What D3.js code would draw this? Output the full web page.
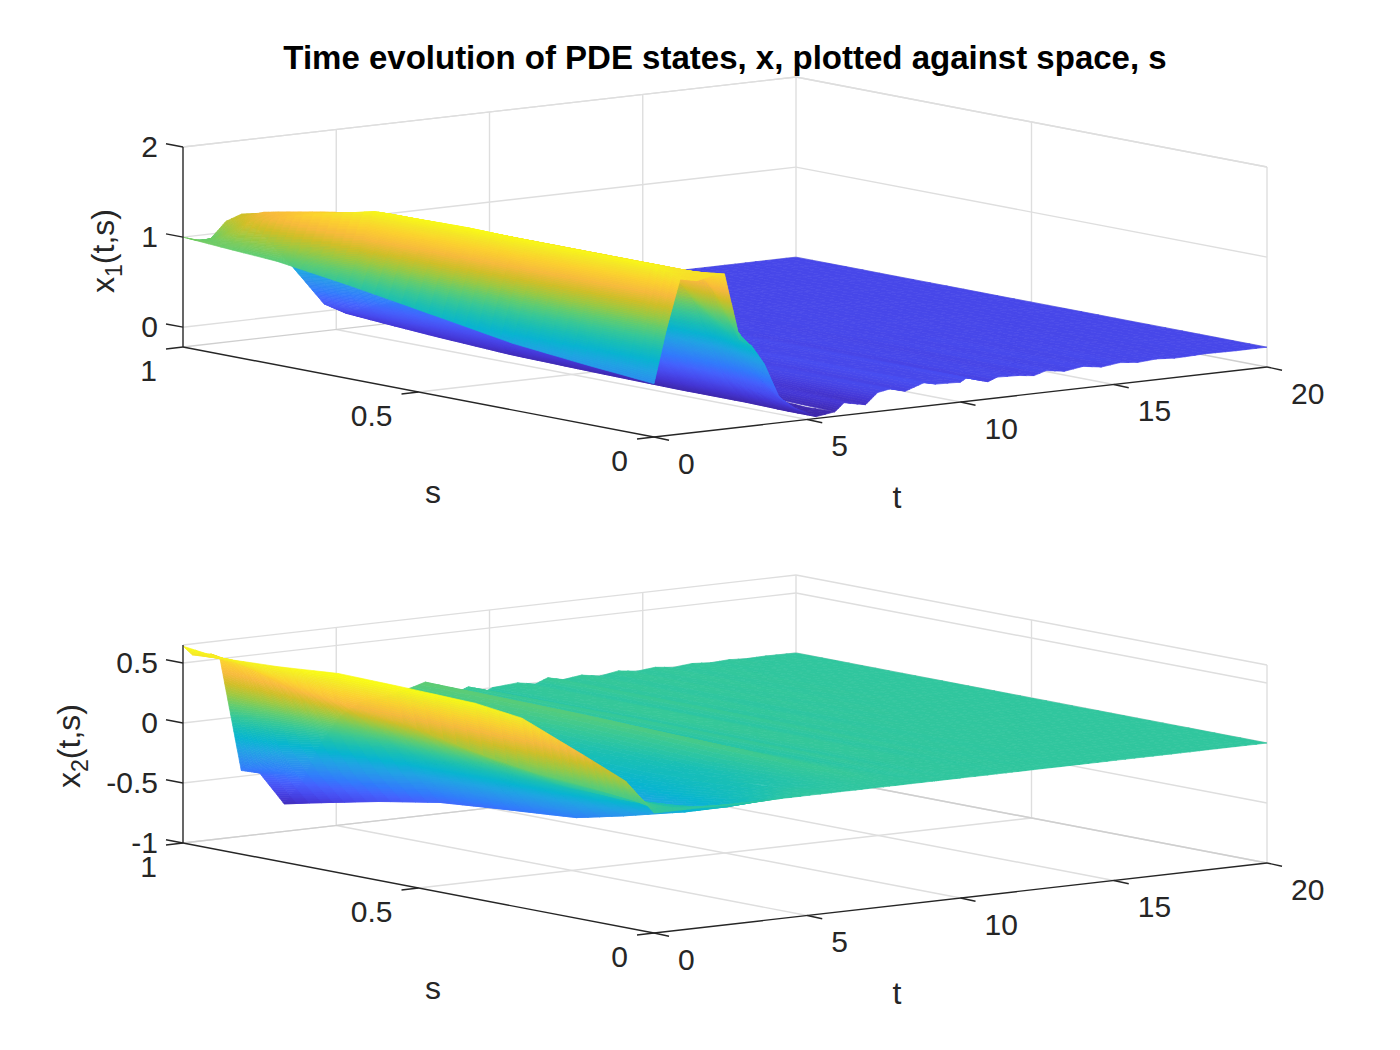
<!DOCTYPE html>
<html>
<head>
<meta charset="utf-8">
<script src="https://cdn.jsdelivr.net/npm/d3@7"></script>
<style>
  html, body { margin: 0; padding: 0; background: #fff; }
  text { font-family: "Liberation Sans", Arial, sans-serif; fill: #262626; }
</style>
</head>
<body>
<svg id="chart" width="1400" height="1050"></svg>
<script>
const titleText = "Time evolution of PDE states, x, plotted against space, s";

const tTicks = [0, 5, 10, 15, 20];
const sTicks = [0, 0.5, 1];
const z1Ticks = [0, 1, 2];
const z2Ticks = [-1, -0.5, 0, 0.5];

// top panel, t <= 5.9, one row per s
const tNear1 = [0, 0.4, 0.85, 1.4, 1.9, 2.3, 2.8, 3.2, 3.6, 4.1, 4.6, 5.3, 5.9];
const sNear1 = [0, 0.06, 0.15, 0.3, 0.45, 0.65, 0.8, 0.92, 1];
const x1Near = [
  [0.37, 0.95, 1.5, 1.46, 1.5, 1.5, 0.75, 0.66, 0.45, 0.05, -0.08, -0.2, -0.17],
  [0.4, 0.98, 1.6, 1.55, 1.5, 1.46, 1.3, 0.85, 0.62, 0.32, 0, -0.2, -0.18],
  [0.44, 1, 1.6, 1.55, 1.5, 1.45, 1.35, 1.2, 1, 0.55, 0.12, -0.19, -0.15],
  [0.52, 1.05, 1.6, 1.55, 1.5, 1.45, 1.35, 1.2, 1, 0.6, 0.2, -0.19, -0.12],
  [0.65, 1.12, 1.62, 1.55, 1.5, 1.45, 1.35, 1.2, 0.95, 0.55, 0.2, -0.18, -0.1],
  [0.82, 1.2, 1.6, 1.55, 1.48, 1.4, 1.2, 1, 0.8, 0.5, 0.15, -0.16, -0.07],
  [0.93, 1.08, 1.41, 1.42, 1.4, 1.3, 1.1, 0.9, 0.7, 0.4, 0.12, -0.12, -0.04],
  [0.97, 1, 1.2, 1.3, 1.28, 1.18, 0.98, 0.8, 0.62, 0.35, 0.1, -0.08, -0.03],
  [1, 0.95, 0.93, 1.12, 1.18, 1.05, 0.85, 0.68, 0.52, 0.3, 0.08, -0.05, -0.02]
];

// top panel, flat part with the small ripples
const tFar1 = [5.9, 6.2, 6.9, 7.3, 7.7, 8.2, 8.8, 9.2, 10, 10.2, 10.9, 11.2, 11.9, 12.4, 12.8, 13.4, 14, 14.6, 15.2, 15.8, 16.4, 17, 18, 19, 20];
const sFar1 = [0, 0.5, 1];
const x1Far = [
  [-0.17, -0.08, -0.13, -0.01, 0.015, -0.03, 0.04, 0.01, 0, 0.04, -0.03, 0.01, 0, -0.02, 0.02, -0.01, 0.02, -0.01, 0.015, -0.005, 0.01, -0.005, 0.005, 0, 0],
  [-0.09, -0.05, -0.03, -0.02, 0.01, -0.01, 0.02, 0.005, 0.005, 0.015, -0.01, 0.005, 0, -0.005, 0.008, 0, 0.006, 0, 0.004, 0, 0.003, 0, 0, 0, 0],
  [-0.02, -0.01, 0, 0, 0.002, 0, 0.002, 0, 0, 0.002, 0, 0, 0, 0, 0, 0, 0, 0, 0, 0, 0, 0, 0, 0, 0]
];

// bottom panel, t <= 5.8
const tNear2 = [0, 0.3, 0.9, 1.2, 1.9, 2.5, 3.3, 3.9, 4.5, 5.1, 5.8];
const sNear2 = [0, 0.06, 0.15, 0.28, 0.38, 0.55, 0.67, 0.8, 0.92, 1];
const x2Near = [
  [0, 0, 0, 0, 0, 0, 0, 0, 0, 0, 0],
  [0.22, 0.05, 0, -0.03, -0.05, -0.07, -0.09, -0.08, -0.05, -0.02, -0.01],
  [0.37, 0.09, 0.02, -0.03, -0.07, -0.12, -0.2, -0.18, -0.1, -0.08, -0.05],
  [0.58, 0.13, 0.05, 0, -0.08, -0.18, -0.33, -0.28, -0.16, -0.12, -0.08],
  [0.63, 0.19, 0.1, 0.05, -0.08, -0.2, -0.42, -0.35, -0.2, -0.14, -0.09],
  [0.65, 0.33, 0.2, 0.12, -0.05, -0.22, -0.47, -0.4, -0.25, -0.12, -0.06],
  [0.66, 0.38, 0.25, 0.18, -0.02, -0.25, -0.51, -0.45, -0.28, -0.1, -0.05],
  [0.62, 0.5, 0.35, 0.25, -0.1, -0.35, -0.6, -0.55, -0.3, -0.1, -0.03],
  [0.6, 0.58, 0.5, 0.35, -0.2, -0.45, -0.7, -0.6, -0.3, -0.1, -0.01],
  [0.64, 0.56, 0.55, 0.51, -0.45, -0.49, -0.77, -0.6, -0.3, -0.1, 0]
];

// bottom panel, far part: s = 1 carries the ripples, s = 0 stays on zero
const tFar2 = [5.8, 6.4, 7, 7.5, 7.9, 8.4, 9.1, 9.3, 9.9, 10.1, 10.9, 11.5, 11.9, 12.4, 13, 13.6, 14.2, 14.8, 15.4, 16, 16.6, 17.2, 17.8, 18.4, 19, 20];
const sFar2 = [0, 0.33, 0.66, 1];
const x2Far = [
  [0, 0, 0, 0, 0, 0, 0, 0, 0, 0, 0, 0, 0, 0, 0, 0, 0, 0, 0, 0, 0, 0, 0, 0, 0, 0],
  [-0.1, -0.08, -0.03, 0.01, 0.05, 0.01, -0.03, 0.02, -0.02, 0.01, 0.012, -0.012, 0.015, -0.006, 0.008, -0.005, 0.006, 0, 0.005, -0.001, 0.004, 0, 0.002, 0, 0.001, 0],
  [-0.05, -0.02, 0.03, 0.06, 0.09, 0.02, -0.03, 0.03, -0.02, 0.02, 0.02, -0.02, 0.03, -0.01, 0.015, -0.01, 0.012, 0, 0.01, -0.002, 0.008, 0, 0.005, 0, 0.002, 0],
  [0, 0.02, 0.05, 0.08, 0.11, 0.05, 0.01, 0.03, -0.02, 0, 0.016, -0.01, 0.03, 0, 0.02, -0.005, 0.02, 0, 0.015, -0.003, 0.012, 0, 0.008, 0, 0.004, 0]
];

const parulaStops = [0, 0.063, 0.127, 0.19, 0.254, 0.317, 0.381, 0.444, 0.508, 0.571, 0.635, 0.698, 0.762, 0.825, 0.889, 0.952, 1];
const parulaColors = ["#3e26a8", "#4537d5", "#484df0", "#4563fd", "#327bfc", "#2b91ef", "#20a5e3", "#08b5d0", "#19bfb5", "#37c897", "#63cd6f", "#9dc942", "#d1bf27", "#f8ba3d", "#fcd030", "#f5e826", "#f9fb15"];

const svg = d3.select("#chart");

// an oblique projection: screen offset is the sum of one scale per data axis
const xT = d3.scaleLinear().domain([0, 20]).range([0, 613]);
const yT = d3.scaleLinear().domain([0, 20]).range([0, -70]);
const xS = d3.scaleLinear().domain([0, 1]).range([0, -471]);
const yS = d3.scaleLinear().domain([0, 1]).range([0, -90]);

const makeQuads = (ts, ss, rows, colorOf, project) => {
  const quads = [];
  for (let i = ss.length - 2; i >= 0; i--) {
    for (let j = ts.length - 2; j >= 0; j--) {
      const z00 = rows[i][j], z01 = rows[i][j + 1], z10 = rows[i + 1][j], z11 = rows[i + 1][j + 1];
      const nt = Math.min(40, Math.max(1, Math.ceil(Math.max(Math.abs(z01 - z00), Math.abs(z11 - z10)) / 0.02), Math.ceil((ts[j + 1] - ts[j]) * 30 / 14)));
      const ns = Math.min(14, Math.max(1, Math.ceil(Math.max(Math.abs(z10 - z00), Math.abs(z11 - z01)) / 0.03), Math.ceil((ss[i + 1] - ss[i]) * 471 / 14)));
      const at = (a, b) => {
        const u = a / ns, v = b / nt;
        const z = (1 - u) * ((1 - v) * z00 + v * z01) + u * ((1 - v) * z10 + v * z11);
        const t = ts[j] + v * (ts[j + 1] - ts[j]);
        const s = ss[i] + u * (ss[i + 1] - ss[i]);
        return { p: project(t, s, z), z };
      };
      for (let a = ns - 1; a >= 0; a--) {
        for (let b = nt - 1; b >= 0; b--) {
          const c = [at(a, b), at(a, b + 1), at(a + 1, b + 1), at(a + 1, b)];
          quads.push({
            d: "M" + c.map((q) => q.p[0].toFixed(1) + "," + q.p[1].toFixed(1)).join("L") + "Z",
            color: colorOf(d3.mean(c, (q) => q.z))
          });
        }
      }
    }
  }
  return quads;
};

const drawPanel = (cfg) => {
  const g = svg.append("g");
  const yZ = d3.scaleLinear().domain(cfg.zLim).range([0, -cfg.zHeight]);
  const project = (t, s, z) => [
    cfg.x0 + xT(t) + xS(s),
    cfg.y0 + yT(t) + yS(s) + yZ(z)
  ];
  const frac = d3.scaleLinear().domain(cfg.cLim).range([0, 1]).clamp(true);
  const parula = d3.scaleLinear().domain(parulaStops).range(parulaColors);
  const colorOf = (z) => parula(frac(z));

  const [zLo, zHi] = cfg.zLim;
  const line = (a, b, stroke, width) => {
    g.append("line")
      .attr("x1", a[0]).attr("y1", a[1])
      .attr("x2", b[0]).attr("y2", b[1])
      .attr("stroke", stroke)
      .attr("stroke-width", width);
  };

  // grid on the two back walls and the floor
  const grid = "#dedede";
  const gridWidth = 1.4;
  tTicks.forEach((t) => {
    if (t > 0) line(project(t, 1, zLo), project(t, 1, zHi), grid, gridWidth);
    if (t > 0 && t < 20) line(project(t, 0, zLo), project(t, 1, zLo), grid, gridWidth);
  });
  sTicks.forEach((s) => {
    if (s < 1) line(project(20, s, zLo), project(20, s, zHi), grid, gridWidth);
    if (s > 0 && s < 1) line(project(0, s, zLo), project(20, s, zLo), grid, gridWidth);
  });
  cfg.zTicks.concat([zHi]).forEach((z) => {
    line(project(0, 1, z), project(20, 1, z), grid, gridWidth);
    line(project(20, 1, z), project(20, 0, z), grid, gridWidth);
  });
  line(project(0, 1, zLo), project(20, 1, zLo), "#cfcfcf", gridWidth);
  line(project(20, 1, zLo), project(20, 0, zLo), "#cfcfcf", gridWidth);

  // surface, far cells first so nearer cells paint over them
  const quads = makeQuads(cfg.tFar, cfg.sFar, cfg.zFar, colorOf, project)
    .concat(makeQuads(cfg.tNear, cfg.sNear, cfg.zNear, colorOf, project));
  g.append("g")
    .selectAll("path")
    .data(quads)
    .join("path")
    .attr("d", (d) => d.d)
    .attr("fill", (d) => d.color)
    .attr("stroke", (d) => d.color)
    .attr("stroke-width", 0.7)
    .attr("stroke-linejoin", "round");

  // axes
  const ink = "#262626";
  const axisWidth = 1.4;
  line(project(0, 1, zLo), project(0, 1, zHi), ink, axisWidth);
  line(project(0, 1, zLo), project(0, 0, zLo), ink, axisWidth);
  line(project(0, 0, zLo), project(20, 0, zLo), ink, axisWidth);

  cfg.zTicks.forEach((z) => {
    const p = project(0, 1, z);
    line(p, [p[0] - 17, p[1] - 3.2], ink, axisWidth);
  });
  sTicks.forEach((s) => {
    const p = project(0, s, zLo);
    line(p, [p[0] - 17, p[1] + 2], ink, axisWidth);
  });
  tTicks.forEach((t) => {
    const p = project(t, 0, zLo);
    line(p, [p[0] + 15, p[1] + 3.2], ink, axisWidth);
  });

  const label = (x, y, text, anchor, size) => g.append("text")
    .attr("x", x).attr("y", y)
    .attr("text-anchor", anchor || "middle")
    .attr("dominant-baseline", "central")
    .attr("font-size", size || 30)
    .text(text);

  cfg.zTicks.forEach((z) => {
    const p = project(0, 1, z);
    label(p[0] - 25, p[1] - 1, d3.format("~g")(z).replace("−", "-"), "end");
  });
  sTicks.forEach((s) => {
    const p = project(0, s, zLo);
    label(p[0] - 26, p[1] + 23, d3.format("~g")(s), "end");
  });
  tTicks.forEach((t) => {
    const p = project(t, 0, zLo);
    label(p[0] + 24, p[1] + 26, d3.format("~g")(t), "start");
  });
  label(433, cfg.y0 + 55, "s", "middle", 32);
  label(897, cfg.y0 + 60, "t", "middle", 32);

  const zLabel = g.append("text")
    .attr("transform", `translate(${cfg.zLabelX},${cfg.zLabelY}) rotate(-90)`)
    .attr("text-anchor", "middle")
    .attr("font-size", 32);
  zLabel.append("tspan").text("x");
  zLabel.append("tspan").attr("font-size", 23).attr("dy", 8).text(cfg.zIndex);
  zLabel.append("tspan").attr("dy", -8).text("(t,s)");
};

svg.append("text")
  .attr("x", 725)
  .attr("y", 69)
  .attr("text-anchor", "middle")
  .attr("font-size", 33)
  .attr("font-weight", "bold")
  .style("fill", "#000")
  .text(titleText);

drawPanel({
  x0: 654, y0: 437, zLim: [-0.22, 2], zHeight: 200, cLim: [-0.2, 1.62],
  zTicks: z1Ticks, zIndex: "1", zLabelX: 114, zLabelY: 251,
  tNear: tNear1, sNear: sNear1, zNear: x1Near,
  tFar: tFar1, sFar: sFar1, zFar: x1Far
});

drawPanel({
  x0: 654, y0: 933, zLim: [-1, 0.65], zHeight: 198, cLim: [-0.8, 0.64],
  zTicks: z2Ticks, zIndex: "2", zLabelX: 80, zLabelY: 746,
  tNear: tNear2, sNear: sNear2, zNear: x2Near,
  tFar: tFar2, sFar: sFar2, zFar: x2Far
});
</script>
</body>
</html>
